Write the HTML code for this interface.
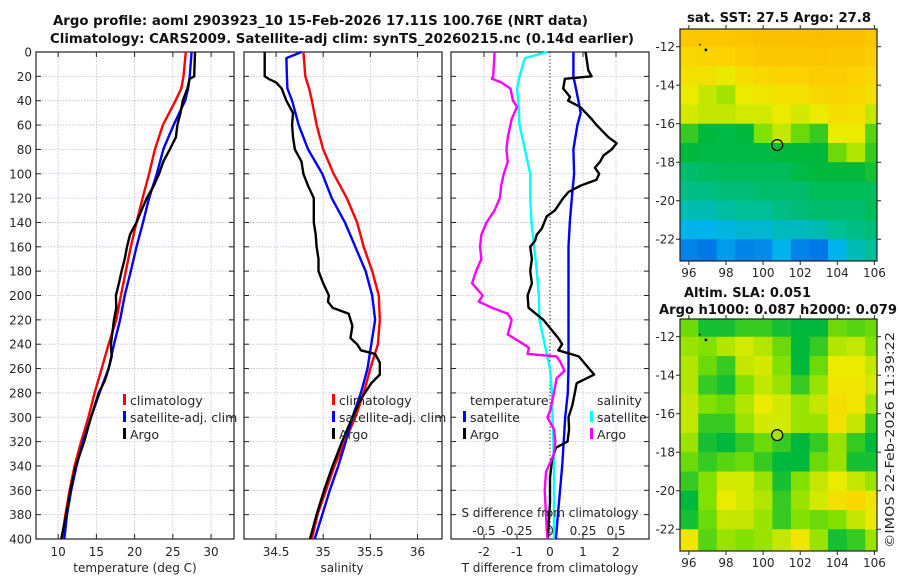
<!DOCTYPE html>
<html><head><meta charset="utf-8"><style>
body{margin:0;background:#fff;}
svg{display:block;font-family:"DejaVu Sans","Liberation Sans",sans-serif;}
.t{font-weight:bold;font-size:13px;fill:#111;}
.tk{font-size:12px;fill:#262626;}
.lg{font-size:12.5px;fill:#262626;}
</style></head><body>
<svg id="c" width="900" height="580" xmlns="http://www.w3.org/2000/svg">
<defs>
<clipPath id="clipm1"><rect x="680" y="29" width="197" height="232"/></clipPath>
<clipPath id="clipm2"><rect x="680" y="319" width="197" height="232"/></clipPath>
</defs>
<text class="t" x="53" y="25" textLength="535" lengthAdjust="spacingAndGlyphs">Argo profile: aoml 2903923_10 15-Feb-2026 17.11S 100.76E (NRT data)</text>
<text class="t" x="50" y="43" textLength="584" lengthAdjust="spacingAndGlyphs">Climatology: CARS2009. Satellite-adj clim: synTS_20260215.nc (0.14d earlier)</text>
<text class="t" x="687" y="22" textLength="184" lengthAdjust="spacingAndGlyphs">sat. SST: 27.5 Argo: 27.8</text>
<text class="t" x="684" y="297" textLength="127" lengthAdjust="spacingAndGlyphs">Altim. SLA: 0.051</text>
<text class="t" x="659" y="314" textLength="238" lengthAdjust="spacingAndGlyphs">Argo h1000: 0.087 h2000: 0.079</text>
<text class="tk" transform="translate(894,440) rotate(-90)" text-anchor="middle" textLength="216" lengthAdjust="spacingAndGlyphs">©IMOS 22-Feb-2026 11:39:22</text>
<g id="root"></g>
</svg>
<script>
// ---------- data ----------
const tClimDepth=[0,20,30,40,60,80,100,120,140,160,180,200,220,240,260,280,300,320,340,360,380,400];
const tClim=[26.7,26.4,26.1,25.35,23.7,22.65,21.9,21.05,20.25,19.5,18.85,18.2,17.6,16.6,15.7,14.76,13.95,13.0,12.15,11.5,10.95,10.5];
const tSat=[27.45,27.2,27.0,26.6,25.1,23.75,22.9,21.9,21.1,20.25,19.5,18.7,18.1,17.3,16.6,15.4,14.3,13.25,12.4,11.7,11.15,10.8];
const argoTDepth=[0,20,22,30,40,50,60,70,80,90,100,110,120,130,140,150,160,170,180,190,200,210,220,240,250,260,270,280,300,320,340,360,380,400];
const argoT=[27.9,27.8,27.2,26.9,26.3,26.0,25.6,25.4,24.6,23.75,23.2,22.5,21.6,20.9,20.25,19.4,19.0,18.7,18.3,17.95,17.55,17.6,17.3,16.9,17.0,16.6,16.1,15.3,14.3,13.4,12.3,11.6,11.05,10.4];
const sClimDepth=[0,5,20,30,40,60,80,100,120,140,160,180,200,220,240,260,280,300,320,340,360,380,400];
const sClim=[34.79,34.795,34.81,34.85,34.88,34.93,35.0,35.11,35.25,35.36,35.43,35.52,35.59,35.6,35.58,35.5,35.43,35.34,35.23,35.12,35.03,34.94,34.88];
const sSat=[34.77,34.61,34.615,34.62,34.67,34.74,34.84,34.99,35.09,35.23,35.34,35.45,35.52,35.55,35.51,35.47,35.4,35.31,35.24,35.16,35.07,34.99,34.91];
const argoSDepth=[0,20,22,25,30,40,50,60,70,80,90,100,110,120,130,140,150,160,170,180,190,200,205,210,215,225,235,240,245,248,255,265,272,285,300,320,340,360,380,400];
const argoS=[34.38,34.38,34.42,34.5,34.56,34.61,34.68,34.67,34.68,34.70,34.77,34.79,34.84,34.9,34.9,34.9,34.92,34.93,34.95,34.95,35.0,35.06,35.05,35.1,35.27,35.31,35.29,35.36,35.4,35.55,35.6,35.6,35.51,35.4,35.31,35.2,35.1,35.01,34.93,34.86];
const dTSatDepth=[0,20,40,50,60,80,100,120,140,160,180,200,220,260,280,300,340,380,400];
const dTSat=[0.71,0.71,0.86,0.93,0.83,0.71,0.73,0.66,0.6,0.56,0.56,0.56,0.56,0.56,0.54,0.46,0.37,0.24,0.18];
const dTArgoDepth=[0,15,20,22,30,37,40,45,55,60,70,75,80,85,90,95,100,105,110,115,120,130,135,145,150,155,160,170,180,190,200,210,220,235,240,245,250,258,265,272,280,290,300,310,320,325,335,350,370,400];
const dTArgo=[1.08,1.16,1.26,0.45,0.4,0.61,0.55,0.91,1.26,1.41,1.77,2.02,1.87,1.62,1.52,1.36,1.49,1.41,0.91,0.56,0.4,0.15,-0.1,-0.25,-0.4,-0.45,-0.6,-0.55,-0.6,-0.55,-0.68,-0.65,-0.2,0.25,0.37,0.25,0.87,1.12,1.34,0.81,0.75,0.68,0.56,0.58,0.53,0.18,0.06,0.0,0.0,-0.07];
const dSSatDepth=[0,5,20,30,40,60,80,100,120,140,160,180,200,220,240,260,280,300,340,380,400];
const dSSat=[-0.02,-0.19,-0.23,-0.25,-0.24,-0.23,-0.19,-0.15,-0.15,-0.14,-0.12,-0.1,-0.085,-0.08,-0.04,0,0.015,0.02,0.03,0.03,0.03];
const dSArgoDepth=[0,20,22,25,30,35,40,45,55,60,70,80,90,100,110,120,130,140,150,160,170,180,190,200,205,210,215,220,232,240,243,248,250,255,262,268,280,295,300,310,320,330,345,360,380,400];
const dSArgo=[-0.42,-0.43,-0.44,-0.37,-0.3,-0.29,-0.28,-0.25,-0.29,-0.3,-0.32,-0.33,-0.32,-0.35,-0.37,-0.38,-0.42,-0.48,-0.52,-0.53,-0.52,-0.56,-0.59,-0.51,-0.54,-0.44,-0.32,-0.29,-0.32,-0.2,-0.16,-0.17,0.05,0.08,0.11,0.05,0.03,0,-0.02,0.03,0.04,0.03,-0.03,-0.04,-0.03,-0.02];
const depthTicks=[0,20,40,60,80,100,120,140,160,180,200,220,240,260,280,300,320,340,360,380,400];
const tempTicks=[10,15,20,25,30];
const salTicks=[34.5,35,35.5,36];
const dTTicks=[-2,-1,0,1,2];
const dSTicks=[-0.5,-0.25,0,0.25,0.5];
const dSTickLabels=["-0.5","-0.25","0","0.25","0.5"];
const lonTicks=[96,98,100,102,104,106];
const latTicks=[-12,-14,-16,-18,-20,-22];
const gridLons=[96,97,98,99,100,101,102,103,104,105,106];
const gridLats=[-11.5,-12.5,-13.5,-14.5,-15.5,-16.5,-17.5,-18.5,-19.5,-20.5,-21.5,-22.5];
const sstGrid=[
[0.92,0.93,0.93,0.94,0.95,0.95,0.95,0.96,0.95,0.95,0.93],
[0.85,0.87,0.88,0.9,0.92,0.92,0.92,0.93,0.92,0.92,0.9],
[0.8,0.8,0.76,0.82,0.85,0.87,0.88,0.9,0.9,0.88,0.85],
[0.75,0.7,0.66,0.75,0.78,0.8,0.8,0.85,0.87,0.85,0.8],
[0.72,0.7,0.7,0.72,0.72,0.75,0.72,0.75,0.82,0.8,0.7],
[0.55,0.5,0.48,0.5,0.62,0.7,0.6,0.55,0.75,0.75,0.58],
[0.5,0.48,0.48,0.48,0.48,0.5,0.5,0.5,0.6,0.68,0.55],
[0.42,0.44,0.45,0.45,0.45,0.45,0.48,0.5,0.5,0.5,0.52],
[0.38,0.38,0.4,0.4,0.42,0.42,0.42,0.45,0.45,0.45,0.45],
[0.3,0.3,0.33,0.35,0.35,0.38,0.4,0.42,0.42,0.42,0.45],
[0.2,0.2,0.22,0.25,0.25,0.28,0.28,0.3,0.35,0.38,0.4],
[0.1,0.08,0.15,0.1,0.12,0.2,0.1,0.08,0.2,0.3,0.35]];
const slaGrid=[
[0.6,0.52,0.52,0.55,0.55,0.52,0.5,0.5,0.6,0.58,0.6],
[0.65,0.62,0.68,0.72,0.68,0.6,0.5,0.55,0.68,0.7,0.62],
[0.68,0.6,0.55,0.7,0.72,0.62,0.5,0.6,0.75,0.75,0.7],
[0.68,0.55,0.52,0.62,0.7,0.65,0.55,0.65,0.78,0.78,0.72],
[0.7,0.62,0.6,0.68,0.75,0.72,0.65,0.7,0.82,0.78,0.65],
[0.7,0.55,0.55,0.65,0.72,0.72,0.65,0.65,0.8,0.7,0.55],
[0.65,0.52,0.5,0.55,0.6,0.55,0.5,0.55,0.65,0.55,0.5],
[0.6,0.55,0.58,0.6,0.55,0.5,0.5,0.6,0.65,0.52,0.52],
[0.55,0.62,0.72,0.72,0.65,0.52,0.62,0.7,0.75,0.7,0.65],
[0.5,0.62,0.75,0.72,0.68,0.55,0.65,0.72,0.8,0.85,0.78],
[0.52,0.6,0.7,0.7,0.65,0.55,0.62,0.6,0.62,0.7,0.75],
[0.78,0.58,0.65,0.62,0.65,0.7,0.78,0.65,0.52,0.55,0.65]];
const argoLon=100.76, argoLat=-17.11;

// ---------- helpers ----------
const NS="http://www.w3.org/2000/svg";
const root=document.getElementById('root');
function mk(tag,attrs,parent){const e=document.createElementNS(NS,tag);for(const k in attrs)e.setAttribute(k,attrs[k]);(parent||root).appendChild(e);return e;}
const yTop=52,yBot=539;
const yD=d=>yTop+(d/400)*(yBot-yTop);
function lin(d0,d1,r0,r1){return v=>r0+(v-d0)/(d1-d0)*(r1-r0);}

function panel(x0,x1,xs,xticks,xlabels,grid,name,showY){
  const g=mk('g',{});
  
  
  xticks.forEach(t=>{if(grid){const l=mk('line',{x1:xs(t),x2:xs(t),y1:yTop,y2:yBot,stroke:'#b8bfdc','stroke-width':0.8,'stroke-dasharray':'1.5,1.5'},g);}});
  depthTicks.forEach(d=>{const l=mk('line',{x1:x0,x2:x1,y1:yD(d),y2:yD(d),stroke:'#b8bfdc','stroke-width':0.8,'stroke-dasharray':'1.5,1.5'},g);
    mk('line',{x1:x0,x2:x0+5,y1:yD(d),y2:yD(d),stroke:'#222','stroke-width':1},g);
    mk('line',{x1:x1-5,x2:x1,y1:yD(d),y2:yD(d),stroke:'#222','stroke-width':1},g);
    if(showY){const t=mk('text',{x:x0-4,y:yD(d)+4.5,'text-anchor':'end',class:'tk'},g);t.textContent=d;}
  });
  xticks.forEach((t,i)=>{mk('line',{x1:xs(t),x2:xs(t),y1:yBot-5,y2:yBot,stroke:'#222'},g);mk('line',{x1:xs(t),x2:xs(t),y1:yTop,y2:yTop+5,stroke:'#222'},g);
    const tx=mk('text',{x:xs(t),y:yBot+17,'text-anchor':'middle',class:'tk'},g);tx.textContent=xlabels[i];});
  const fr=mk('rect',{x:x0,y:yTop,width:x1-x0,height:yBot-yTop,fill:'none',stroke:'#222','stroke-width':1.2},g);
  
  return g;
}
function line(depths,vals,xs,color,name,w){
  const p=depths.map((d,i)=>(i?'L':'M')+xs(vals[i]).toFixed(1)+','+yD(d).toFixed(1)).join('');
  const e=mk('path',{d:p,fill:'none',stroke:color,'stroke-width':w||2.4,'stroke-linejoin':'round'});
  
  
}
function text(x,y,s,cls,name,anchor){const t=mk('text',{x:x,y:y,class:cls,'text-anchor':anchor||'start'});t.textContent=s;return t;}
function legend(x,y,color,label){const r=mk('rect',{x:x,y:y-11,width:3,height:11,fill:color});text(x+7,y,label,'lg','legend-entry');}

// ---------- panel 1: temperature ----------
const xT=lin(7.1,33,36,234);
panel(36,234,xT,tempTicks,tempTicks.map(String),true,'temperature-panel',true);
line(tClimDepth,tClim,xT,'#ff0000','temp-climatology-line');
line(tClimDepth,tSat,xT,'#0000ff','temp-satellite-line');
line(argoTDepth,argoT,xT,'#000000','temp-argo-line');
text(135,572,'temperature (deg C)','tk','x-axis-title-temperature','middle');
legend(123,405,'#ff0000','climatology');legend(123,422,'#0000ff','satellite-adj. clim');legend(123,439,'#000000','Argo');

// ---------- panel 2: salinity ----------
const xS=lin(34.16,36.26,244,442);
panel(244,442,xS,salTicks,salTicks.map(String),true,'salinity-panel',false);
line(sClimDepth,sClim,xS,'#ff0000','sal-climatology-line');
line(sClimDepth,sSat,xS,'#0000ff','sal-satellite-line');
line(argoSDepth,argoS,xS,'#000000','sal-argo-line');
text(342,572,'salinity','tk','x-axis-title-salinity','middle');
legend(332,405,'#ff0000','climatology');legend(332,422,'#0000ff','satellite-adj. clim');legend(332,439,'#000000','Argo');

// ---------- panel 3: differences ----------
const xdT=lin(-3,3,451,649);
const xdS=lin(-0.75,0.75,451,649);
panel(451,649,xdT,dTTicks.filter(v=>v!==0),['-2','-1','1','2'],true,'difference-panel',false);
text(xdT(0),yBot+17,'0','tk','x-tick-label','middle');
const zl=mk('line',{x1:xdT(0),x2:xdT(0),y1:yTop,y2:yBot,stroke:'#333','stroke-width':1,'stroke-dasharray':'1.5,2'});

line(dSSatDepth,dSSat,xdS,'#00ffff','sal-diff-satellite-line');
line(dTSatDepth,dTSat,xdT,'#0000ff','temp-diff-satellite-line');
line(dTArgoDepth,dTArgo,xdT,'#000000','temp-diff-argo-line');
line(dSArgoDepth,dSArgo,xdS,'#ff00ff','sal-diff-argo-line');
text(550,572,'T difference from climatology','tk','x-axis-title-t-diff','middle');
text(550,517,'S difference from climatology','tk','s-diff-axis-title','middle');
dSTicks.forEach((v,i)=>text(xdS(v),535,dSTickLabels[i],'tk','s-diff-tick-label','middle'));
text(470,405,'temperature','lg','legend-title-temperature');
text(597,405,'salinity','lg','legend-title-salinity');
legend(463,422,'#0000ff','satellite');legend(463,439,'#000000','Argo');
legend(590,422,'#00ffff','satellite');legend(590,439,'#ff00ff','Argo');

// ---------- maps ----------
const stops=[[0,[0,80,225]],[0.2,[0,180,235]],[0.35,[0,190,150]],[0.5,[0,185,60]],[0.62,[130,225,0]],[0.75,[235,235,0]],[0.88,[252,210,0]],[1,[250,180,0]]];
function cmap(v){for(let i=1;i<stops.length;i++){if(v<=stops[i][0]){const a=stops[i-1],b=stops[i],f=(v-a[0])/(b[0]-a[0]);return 'rgb('+a[1].map((c,k)=>Math.round(c+(b[1][k]-c)*f)).join(',')+')';}}return 'rgb(250,180,0)';}
function map(y0,y1,gridv,name,circFill){
  const x0=680,x1=877;
  const xl=lin(95.52,106.14,x0,x1);
  const yl=lin(-11.08,-23.13,y0,y1);
  const g=mk('g',{'clip-path':'url(#clipm'+name.slice(-1)+')'});
  
  gridLats.forEach((la,r)=>gridLons.forEach((lo,c)=>{
    const ex0=c===0?-2:0, ex1=c===gridLons.length-1?2:0, ey0=r===0?-2:0, ey1=r===gridLats.length-1?2:0;
    const rc=mk('rect',{x:xl(lo-0.5+ex0),y:yl(la+0.5-ey0),width:xl(lo+0.5+ex1)-xl(lo-0.5+ex0)+0.6,height:yl(la-0.5-ey1)-yl(la+0.5-ey0)+0.6,fill:cmap(gridv[r][c])},g);
    
    
  }));
  mk('rect',{x:xl(96.55),y:yl(-11.85),width:1.5,height:1.5,fill:'#000'},g);
  mk('rect',{x:xl(96.85),y:yl(-12.1),width:2.5,height:2.5,fill:'#000'},g);
  const ci=mk('circle',{cx:xl(argoLon),cy:yl(argoLat),r:5.5,fill:circFill,stroke:'#000','stroke-width':1.2});
  
  const fr=mk('rect',{x:x0,y:y0,width:x1-x0,height:y1-y0,fill:'none',stroke:'#222','stroke-width':1.2});
  
  lonTicks.forEach(t=>{mk('line',{x1:xl(t),x2:xl(t),y1:y1,y2:y1+4,stroke:'#222'});mk('line',{x1:xl(t),x2:xl(t),y1:y0-4,y2:y0,stroke:'#222'});text(xl(t),y1+16,String(t),'tk','lon-tick-label','middle');});
  latTicks.forEach(t=>{mk('line',{x1:x0-4,x2:x0,y1:yl(t),y2:yl(t),stroke:'#222'});mk('line',{x1:x1,x2:x1+4,y1:yl(t),y2:yl(t),stroke:'#222'});text(x0-5,yl(t)+4.5,String(t),'tk','lat-tick-label','end');});
}
map(29,261,sstGrid,'sst-map1','none');
map(319,551,slaGrid,'sla-map2','#a8e020');
</script>
</body></html>
